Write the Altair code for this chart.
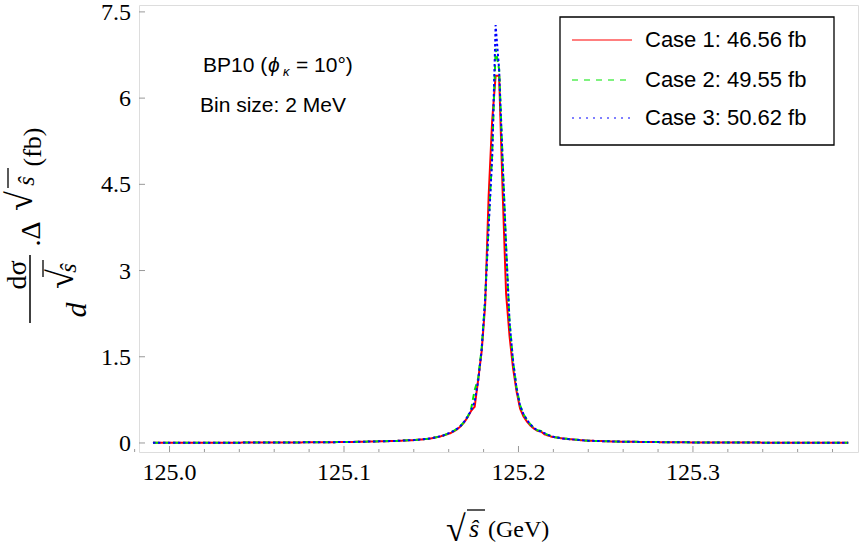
import altair as alt
import pandas as pd

# sqrt(s-hat) bin positions (GeV)
x_vals = [124.9905, 125.00, 125.02, 125.04, 125.06, 125.08, 125.10, 125.11, 125.12, 125.13,
          125.14, 125.145, 125.15, 125.1529, 125.1549, 125.1569, 125.1589, 125.1609, 125.1629, 125.1649,
          125.1669, 125.1689, 125.1709, 125.1729, 125.1749, 125.1769, 125.1789, 125.1809, 125.1829, 125.1849,
          125.1869, 125.1889, 125.1909, 125.1929, 125.1949, 125.1969, 125.1989, 125.2009, 125.2029, 125.2049,
          125.2069, 125.2089, 125.2109, 125.2129, 125.2149, 125.2169, 125.2189, 125.2209, 125.225, 125.23,
          125.235, 125.24, 125.25, 125.26, 125.28, 125.30, 125.32, 125.34, 125.36, 125.38, 125.389]

case1 = [0.004, 0.004, 0.005, 0.006, 0.008, 0.011, 0.016, 0.021, 0.028, 0.036,
         0.05, 0.062, 0.08, 0.10, 0.11, 0.13, 0.15, 0.17, 0.20, 0.24,
         0.29, 0.36, 0.45, 0.56, 0.63, 1.10, 1.60, 2.40, 4.30, 5.60,
         6.39, 6.39, 4.40, 2.60, 1.85, 1.30, 0.90, 0.60, 0.46, 0.37,
         0.30, 0.25, 0.21, 0.20, 0.15, 0.13, 0.11, 0.10, 0.08, 0.065,
         0.05, 0.04, 0.03, 0.022, 0.015, 0.01, 0.008, 0.006, 0.005, 0.004, 0.004]

case2 = [0.004, 0.004, 0.005, 0.006, 0.008, 0.011, 0.016, 0.021, 0.028, 0.036,
         0.05, 0.062, 0.08, 0.10, 0.115, 0.13, 0.155, 0.18, 0.21, 0.25,
         0.30, 0.37, 0.46, 0.60, 0.92, 1.12, 1.65, 2.50, 3.80, 5.00,
         6.86, 6.50, 4.95, 3.45, 2.10, 1.43, 0.96, 0.66, 0.50, 0.40,
         0.32, 0.26, 0.22, 0.21, 0.17, 0.14, 0.12, 0.10, 0.08, 0.065,
         0.05, 0.04, 0.03, 0.022, 0.015, 0.01, 0.008, 0.006, 0.005, 0.004, 0.004]

case3 = [0.004, 0.004, 0.005, 0.006, 0.008, 0.011, 0.016, 0.021, 0.028, 0.036,
         0.05, 0.062, 0.08, 0.10, 0.115, 0.13, 0.155, 0.18, 0.21, 0.25,
         0.30, 0.37, 0.46, 0.57, 0.72, 1.08, 1.62, 2.50, 3.75, 4.95,
         7.27, 6.50, 4.90, 3.40, 2.10, 1.42, 0.95, 0.65, 0.50, 0.40,
         0.32, 0.26, 0.22, 0.20, 0.17, 0.14, 0.12, 0.10, 0.08, 0.065,
         0.05, 0.04, 0.03, 0.022, 0.015, 0.01, 0.008, 0.006, 0.005, 0.004, 0.004]

case_names = ["Case 1: 46.56 fb", "Case 2: 49.55 fb", "Case 3: 50.62 fb"]
case_colors = ["#ff0000", "#00e600", "#0000ff"]

x_major = [125.0, 125.1, 125.2, 125.3]
x_major_labels = ["125.0", "125.1", "125.2", "125.3"]
x_minor = [124.98, 125.02, 125.04, 125.06, 125.08, 125.12, 125.14, 125.16, 125.18,
           125.22, 125.24, 125.26, 125.28, 125.32, 125.34, 125.36, 125.38]
y_major = [0, 1.5, 3, 4.5, 6, 7.5]
y_major_labels = ["0", "1.5", "3", "4.5", "6", "7.5"]

W, H = 719, 447
xs = alt.Scale(domain=[124.9825, 125.3946], nice=False, zero=False)
ys = alt.Scale(domain=[-0.157, 7.62], nice=False, zero=False)
serif = "Liberation Serif"

one = pd.DataFrame({"a": [0]})


def series(vals, color, dash):
    df = pd.DataFrame({"x": x_vals, "y": vals})
    return alt.Chart(df).mark_line(color=color, strokeDash=dash, strokeWidth=2, clip=True).encode(
        x=alt.X("x:Q", scale=xs, axis=None), y=alt.Y("y:Q", scale=ys, axis=None))


l1 = series(case1, case_colors[0], [1, 0])
l2 = series(case2, case_colors[1], [6, 4])
l3 = series(case3, case_colors[2], [2.5, 2.5])

# inward ticks and tick labels
tmaj = alt.Chart(pd.DataFrame({"t": x_major})).mark_rule(color="#999999").encode(
    x=alt.X("t:Q", scale=xs, axis=None), y=alt.value(H), y2=alt.value(H - 6))
tmin = alt.Chart(pd.DataFrame({"t": x_minor})).mark_rule(color="#999999").encode(
    x=alt.X("t:Q", scale=xs, axis=None), y=alt.value(H), y2=alt.value(H - 3))
ytk = alt.Chart(pd.DataFrame({"t": y_major})).mark_rule(color="#999999").encode(
    y=alt.Y("t:Q", scale=ys, axis=None), x=alt.value(0), x2=alt.value(6))
xlab = alt.Chart(pd.DataFrame({"t": x_major, "lab": x_major_labels})).mark_text(
    font=serif, fontSize=24, align="center", baseline="alphabetic", color="black").encode(
    x=alt.X("t:Q", scale=xs, axis=None), y=alt.value(H + 28), text="lab:N")
ylab = alt.Chart(pd.DataFrame({"t": y_major, "lab": y_major_labels})).mark_text(
    font=serif, fontSize=24, align="right", baseline="middle", color="black", dy=1).encode(
    y=alt.Y("t:Q", scale=ys, axis=None), x=alt.value(-8), text="lab:N")


def txt(text, x, y, size, font="Liberation Sans", align="left", baseline="alphabetic", angle=0, style="normal"):
    kw = dict(text=text, font=font, fontSize=size, align=align, baseline=baseline, color="black", fontStyle=style)
    if angle:
        kw["angle"] = angle
    return alt.Chart(one).mark_text(**kw).encode(x=alt.value(x), y=alt.value(y))


def rule(x1, y1, x2, y2, color="black", width=1.0, dash=None):
    kw = dict(color=color, strokeWidth=width)
    if dash:
        kw["strokeDash"] = dash
    return alt.Chart(one).mark_rule(**kw).encode(x=alt.value(x1), y=alt.value(y1), x2=alt.value(x2), y2=alt.value(y2))


# annotations
ann = [
    txt("BP10 (", 64, 67, 21),
    txt("ϕ", 129, 67, 21, style="italic"),
    txt("κ", 144, 71, 13, style="italic"),
    txt("= 10°)", 157, 67, 21),
    txt("Bin size: 2 MeV", 61, 107, 21),
]

# legend
box = alt.Chart(one).mark_rect(fill="white", stroke="black", strokeWidth=1.3).encode(
    x=alt.value(421), x2=alt.value(695), y=alt.value(12), y2=alt.value(140))
leg = [box]
rows = [35, 75, 113]
dashes = [None, [6, 6], [2, 5]]
for name, col, dsh, ry in zip(case_names, case_colors, dashes, rows):
    leg.append(rule(433, ry, 493, ry, color=col, width=1.2, dash=dsh))
    leg.append(txt(name, 506, ry, 22, baseline="middle"))

# axis titles (x: sqrt(s-hat) (GeV); y: d sigma / d sqrt(s-hat) . Delta sqrt(s-hat) (fb))
titles = [
    txt("√", 307, 536, 36, font=serif),
    rule(328, 505, 346, 505, width=1.3),
    txt("ŝ", 330, 532, 26, font=serif, style="italic"),
    txt("(GeV)", 349, 532, 24, font=serif),
    # numerator / bar / denominator
    txt("dσ", -121, 270, 28, font=serif, align="center", baseline="middle", angle=270),
    rule(-109, 250, -109, 318, width=1.5),
    txt("d", -62, 305, 30, font=serif, align="center", baseline="middle", angle=270, style="italic"),
    txt("√", -77, 274, 36, font=serif, align="center", baseline="middle", angle=270),
    rule(-96, 255, -96, 272, width=1.3),
    txt("ŝ", -70, 263, 24, font=serif, align="center", baseline="middle", angle=270, style="italic"),
    # .Δ√ŝ (fb)
    txt(".Δ", -107, 229, 28, font=serif, align="center", baseline="middle", angle=270),
    txt("√", -118, 196, 36, font=serif, align="center", baseline="middle", angle=270),
    rule(-131, 163, -131, 183, width=1.3),
    txt("ŝ", -112, 176, 24, font=serif, align="center", baseline="middle", angle=270, style="italic"),
    txt("(fb)", -106, 142, 26, font=serif, align="center", baseline="middle", angle=270),
]

chart = alt.layer(tmaj, tmin, ytk, l1, l2, l3, xlab, ylab, *ann, *leg, *titles).properties(
    width=W, height=H,
    autosize=alt.AutoSizeParams(type="none"),
    padding={"left": 139, "top": 5, "right": 7, "bottom": 96},
).configure_view(stroke="#999999", strokeWidth=1.2).configure(background="white")

chart.save("out.html", embed_options={"renderer": "svg", "actions": False})
